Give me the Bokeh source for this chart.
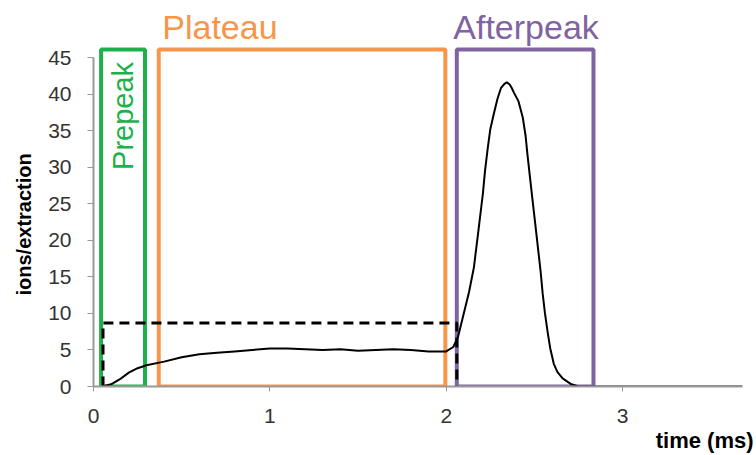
import math
from bokeh.plotting import figure
from bokeh.models import Range1d, FixedTicker, Title
from bokeh.core.properties import value
from bokeh.embed import file_html
from bokeh.resources import INLINE

# ---- data ----
time_ms = [0.05, 0.1, 0.15, 0.2, 0.25, 0.3, 0.4, 0.5, 0.6, 0.7, 0.8, 0.9, 1.0, 1.1, 1.2,
           1.3, 1.4, 1.5, 1.6, 1.7, 1.8, 1.9, 2.0, 2.04, 2.066, 2.11, 2.13, 2.157, 2.18,
           2.208, 2.22, 2.236, 2.25, 2.27, 2.29, 2.31, 2.33, 2.344, 2.36, 2.37, 2.384,
           2.41, 2.434, 2.45, 2.46, 2.475, 2.49, 2.505, 2.52, 2.535, 2.547, 2.56, 2.576,
           2.59, 2.61, 2.63, 2.66, 2.71, 2.75, 2.8, 3.0, 3.5, 3.68]
ions = [0.0, 0.3, 1.0, 1.9, 2.5, 2.9, 3.4, 4.0, 4.4, 4.6, 4.8, 5.0, 5.2, 5.2, 5.1,
        5.0, 5.1, 4.9, 5.0, 5.1, 5.0, 4.8, 4.8, 5.4, 6.7, 11.0, 13.0, 16.3, 20.8,
        26.4, 29.5, 32.7, 35.2, 37.3, 39.3, 40.8, 41.4, 41.6, 41.3, 40.9, 40.2,
        39.0, 36.8, 34.3, 31.9, 28.6, 25.4, 22.2, 19.0, 15.8, 12.7, 10.0, 7.3,
        5.2, 3.1, 2.0, 1.1, 0.3, 0.0, 0.0, 0.0, 0.0, 0.0]

# threshold (dashed) path
thr_x = [0.054, 0.054, 2.06, 2.06]
thr_y = [0.0, 8.7, 8.7, 0.0]

# windows
win_names = ["Prepeak", "Plateau", "Afterpeak"]
win_left = [0.043, 0.37, 2.06]
win_right = [0.292, 1.995, 2.835]
win_top = [46.1, 46.1, 46.1]
win_colors = ["#1db14b", "#f7964a", "#8064a2"]

x_ticks = [0, 1, 2, 3]
y_ticks = [0, 5, 10, 15, 20, 25, 30, 35, 40, 45]

# ---- figure ----
p = figure(width=756, height=455, output_backend="svg", toolbar_location=None,
           min_border_left=92, min_border_right=14, min_border_top=0, min_border_bottom=69,
           x_range=Range1d(0, 3.68), y_range=Range1d(0, 52.8))
p.outline_line_color = None
p.grid.visible = False
p.background_fill_color = "white"

# windows
p.quad(left=win_left, right=win_right, bottom=[0, 0, 0], top=win_top,
       fill_color=None, line_color=win_colors, line_width=4)

# threshold
p.line(thr_x, thr_y, line_color="black", line_width=3, line_dash="10 6")

# curve
p.line(time_ms, ions, line_color="black", line_width=2, line_join="round")

# window labels
p.text(x=[0.39], y=[49.2], text=[win_names[1]], text_color=win_colors[1],
       text_font=value("Liberation Sans"), text_font_size="34px",
       text_baseline="middle", text_align="left")
p.text(x=[2.04], y=[49.2], text=[win_names[2]], text_color=win_colors[2],
       text_font=value("Liberation Sans"), text_font_size="34px",
       text_baseline="middle", text_align="left")
p.text(x=[0.168], y=[44.4], text=[win_names[0]], text_color=win_colors[0],
       text_font=value("Liberation Sans"), text_font_size="29px", angle=math.pi / 2,
       text_baseline="middle", text_align="right")

# axes
for ax in (p.xaxis[0], p.yaxis[0]):
    ax.axis_line_color = "#999999"
    ax.axis_line_width = 2
    ax.major_tick_line_color = "#999999"
    ax.major_tick_in = 0
    ax.minor_tick_line_color = None
    ax.major_label_text_font = "Liberation Sans"
    ax.major_label_text_font_size = "21px"
    ax.major_label_text_color = "#333333"

p.xaxis[0].ticker = FixedTicker(ticks=x_ticks)
p.yaxis[0].ticker = FixedTicker(ticks=y_ticks)
p.xaxis[0].bounds = (0, 3.68)
p.yaxis[0].bounds = (0, 45)
p.xaxis[0].major_tick_out = 5
p.yaxis[0].major_tick_out = 6
p.xaxis[0].major_label_standoff = 17
p.yaxis[0].major_label_standoff = 16

p.add_layout(Title(text="time (ms)", align="right", text_font="Liberation Sans",
                   text_font_style="bold", text_font_size="22px", text_color="black",
                   offset=-11, standoff=1), "below")
p.add_layout(Title(text="ions/extraction", align="left", text_font="Liberation Sans",
                   text_font_style="bold", text_font_size="20px", text_color="black",
                   offset=91, standoff=21), "left")

open("out.html", "w").write(file_html(p, INLINE))
